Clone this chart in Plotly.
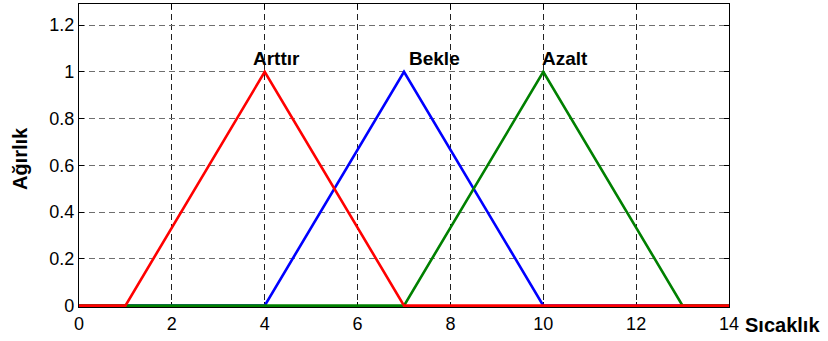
import plotly.graph_objects as go

# Membership functions over temperature (Sıcaklık)
x_arttir = [0, 1, 4, 7, 14]
y_arttir = [0, 0, 1, 0, 0]
x_bekle = [0, 4, 7, 10, 14]
y_bekle = [0, 0, 1, 0, 0]
x_azalt = [0, 7, 10, 13, 14]
y_azalt = [0, 0, 1, 0, 0]

labels = ["Arttır", "Bekle", "Azalt"]
label_x = [4.26, 7.66, 10.46]
label_y = [1.058, 1.058, 1.058]

x_ticks = [0, 2, 4, 6, 8, 10, 12, 14]
y_ticks = [0, 0.2, 0.4, 0.6, 0.8, 1, 1.2]
y_tick_text = ["0", "0.2", "0.4", "0.6", "0.8", "1", "1.2"]

FONT = "Liberation Sans, Arial, sans-serif"
LW = 2.6

fig = go.Figure()
# blue first, green next, red on top
fig.add_trace(go.Scatter(x=x_bekle, y=y_bekle, mode="lines",
                         line=dict(color="#0000FF", width=LW), showlegend=False))
fig.add_trace(go.Scatter(x=x_azalt, y=y_azalt, mode="lines",
                         line=dict(color="#008000", width=LW), showlegend=False))
fig.add_trace(go.Scatter(x=x_arttir, y=y_arttir, mode="lines",
                         line=dict(color="#FF0000", width=LW), showlegend=False))

for t, lx, ly in zip(labels, label_x, label_y):
    fig.add_annotation(x=lx, y=ly, text=f"<b>{t}</b>", showarrow=False,
                       xanchor="center", yanchor="middle",
                       font=dict(family=FONT, size=19, color="black"))

fig.add_annotation(xref="paper", yref="paper", x=1.0215, y=-0.058,
                   text="<b>Sıcaklık</b>", showarrow=False,
                   xanchor="left", yanchor="middle",
                   font=dict(family=FONT, size=20, color="black"))
fig.add_annotation(xref="paper", yref="paper", x=-0.0915, y=0.49,
                   text="<b>Ağırlık</b>", showarrow=False, textangle=-90,
                   xanchor="center", yanchor="middle",
                   font=dict(family=FONT, size=20, color="black"))

fig.update_layout(
    width=828, height=341,
    margin=dict(l=79, r=99, t=4, b=34),
    paper_bgcolor="white", plot_bgcolor="white",
    font=dict(family=FONT, size=18, color="black"),
    xaxis=dict(range=[0, 14], tickvals=x_ticks, ticks="inside", ticklen=5,
               tickcolor="black", showline=True, linecolor="black", linewidth=1.3,
               mirror="ticks", showgrid=True, gridcolor="#222222", gridwidth=1,
               griddash="6px,4px", zeroline=False, layer="below traces",
               tickfont=dict(family=FONT, size=18, color="black")),
    yaxis=dict(range=[-0.006, 1.29], tickvals=y_ticks, ticktext=y_tick_text,
               ticks="inside", ticklen=5, tickcolor="black",
               showline=True, linecolor="black", linewidth=1.3,
               mirror="ticks", showgrid=True, gridcolor="#6f6f6f", gridwidth=1,
               griddash="6px,4px", zeroline=False, layer="below traces",
               tickfont=dict(family=FONT, size=18, color="black")),
)

fig.write_html("out.html")
